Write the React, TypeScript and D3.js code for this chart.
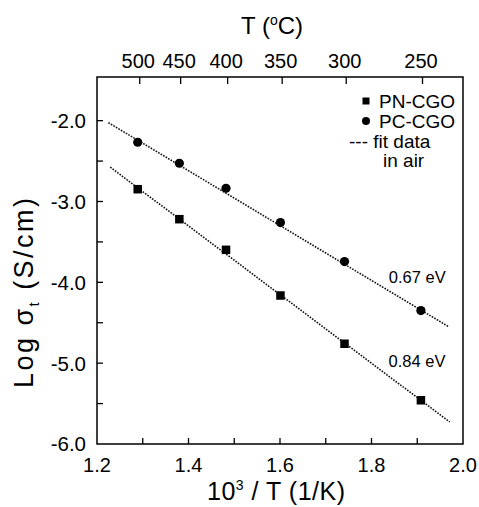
import React from "react";
import * as d3 from "d3";

const invT = [1.289, 1.380, 1.482, 1.601, 1.741, 1.908];
const pcValues = [-2.267, -2.527, -2.836, -3.261, -3.743, -4.349];
const pnValues = [-2.848, -3.219, -3.598, -4.163, -4.760, -5.459];
const pcFit = [
  [1.225, -2.025],
  [1.969, -4.55],
];
const pnFit = [
  [1.229, -2.576],
  [1.971, -5.727],
];
const bottomTicks = [1.2, 1.3, 1.4, 1.5, 1.6, 1.7, 1.8, 1.9, 2.0];
const bottomLabels = [1.2, 1.4, 1.6, 1.8, 2.0];
const leftTicks = [-6.0, -5.5, -5.0, -4.5, -4.0, -3.5, -3.0, -2.5, -2.0];
const leftLabels = [-6.0, -5.0, -4.0, -3.0, -2.0];
const topCelsius = [500, 450, 400, 350, 300, 250];
const annotations = [
  { text: "0.67 eV", x: 1.9, y: -4.01 },
  { text: "0.84 eV", x: 1.8995, y: -5.047 },
];
const legendLabels = ["PN-CGO", "PC-CGO"];

const W = 479;
const H = 507;
const L = 97, R = 463, T = 77, B = 444;
const FONT = "'Liberation Sans', Arial, sans-serif";
const fmt = (v: number) => d3.format(".1f")(v).replace("\u2212", "-");

export default function App() {
  const x = d3.scaleLinear().domain([1.2, 2.0]).range([L, R]);
  const y = d3.scaleLinear().domain([-6.0, -1.46]).range([B, T]);
  const line = d3
    .line<number[]>()
    .x((d) => x(d[0]))
    .y((d) => y(d[1]));
  const sq = 8.5;
  return (
    <svg
      width={W}
      height={H}
      style={{ position: "absolute", left: 0, top: 0, background: "#fff" }}
      fontFamily={FONT}
    >
      <rect x={0} y={0} width={W} height={H} fill="#fff" />
      {/* fit lines */}
      <path d={line(pcFit) || ""} fill="none" stroke="#111" strokeWidth={1.6} strokeDasharray="1.6 1.3" />
      <path d={line(pnFit) || ""} fill="none" stroke="#111" strokeWidth={1.6} strokeDasharray="1.6 1.3" />
      {/* markers */}
      {invT.map((v, i) => (
        <circle key={"c" + i} cx={x(v)} cy={y(pcValues[i])} r={4.6} fill="#000" />
      ))}
      {invT.map((v, i) => (
        <rect key={"s" + i} x={x(v) - sq / 2} y={y(pnValues[i]) - sq / 2} width={sq} height={sq} fill="#000" />
      ))}
      {/* frame */}
      <rect x={L} y={T} width={R - L} height={B - T} fill="none" stroke="#000" strokeWidth={1.5} />
      {/* bottom ticks */}
      {bottomTicks.slice(1, -1).map((t) => (
        <line key={"bt" + t} x1={x(t)} x2={x(t)} y1={B} y2={B - 6} stroke="#000" strokeWidth={1.3} />
      ))}
      {bottomLabels.map((t) => (
        <text key={"bl" + t} x={x(t)} y={472} textAnchor="middle" fontSize={20} fill="#000">
          {fmt(t)}
        </text>
      ))}
      {/* left ticks */}
      {leftTicks.slice(1).map((t) => (
        <line key={"lt" + t} x1={L} x2={L + 6} y1={y(t)} y2={y(t)} stroke="#000" strokeWidth={1.3} />
      ))}
      {leftLabels.map((t) => (
        <text key={"ll" + t} x={86} y={y(t)} dy="0.36em" textAnchor="end" fontSize={20.5} fill="#000">
          {fmt(t)}
        </text>
      ))}
      {/* top ticks */}
      {topCelsius.map((c) => (
        <line
          key={"tt" + c}
          x1={x(1000 / (c + 273.15))}
          x2={x(1000 / (c + 273.15))}
          y1={T}
          y2={T + 7}
          stroke="#000"
          strokeWidth={1.3}
        />
      ))}
      {topCelsius.map((c) => (
        <text key={"tl" + c} x={x(1000 / (c + 273.15)) - 1.5} y={68} textAnchor="middle" fontSize={20} fill="#000">
          {c}
        </text>
      ))}
      {/* axis titles */}
      <text x={272} y={34} textAnchor="middle" fontSize={24} fill="#000">
        T (<tspan fontSize={14} dy={-9}>o</tspan>
        <tspan dy={9}>C)</tspan>
      </text>
      <text x={276} y={500} textAnchor="middle" fontSize={25} fill="#000" textLength={138} lengthAdjust="spacing">
        10<tspan fontSize={14} dy={-10}>3</tspan>
        <tspan dy={10}> / T (1/K)</tspan>
      </text>
      <text
        transform={`translate(33,293) rotate(-90)`}
        textAnchor="middle"
        fontSize={27}
        fill="#000"
        textLength={190}
        lengthAdjust="spacing"
      >
        Log σ<tspan fontSize={15} dy={6}>t</tspan>
        <tspan dy={-6}> (S/cm)</tspan>
      </text>
      {/* annotations */}
      {annotations.map((a) => (
        <text key={a.text} x={x(a.x)} y={y(a.y)} textAnchor="middle" fontSize={16.5} fill="#000">
          {a.text}
        </text>
      ))}
      {/* legend */}
      <rect x={362.5} y={97.5} width={7} height={7} fill="#000" />
      <circle cx={366} cy={121} r={4} fill="#000" />
      <text x={379} y={108} fontSize={19} fill="#000">{legendLabels[0]}</text>
      <text x={379} y={128} fontSize={19} fill="#000">{legendLabels[1]}</text>
      <text x={349} y={148} fontSize={19} fill="#000">--- fit data</text>
      <text x={383} y={167} fontSize={19} fill="#000">in air</text>
    </svg>
  );
}
